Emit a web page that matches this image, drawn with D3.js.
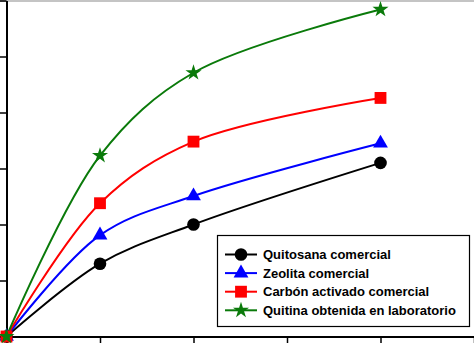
<!DOCTYPE html>
<html><head><meta charset="utf-8">
<script src="https://cdn.jsdelivr.net/npm/d3@7"></script>
<style>html,body{margin:0;padding:0;background:#fff;overflow:hidden}</style>
</head><body>
<svg id="c" width="474" height="343"></svg>
<script>
const xValues = [0, 1, 2, 4];
const quitosana = [0, 1.30, 2.00, 3.10];
const zeolita = [0, 1.81, 2.51, 3.45];
const carbon = [0, 2.38, 3.48, 4.26];
const quitina = [0, 3.23, 4.71, 5.84];
const seriesNames = ["Quitosana comercial", "Zeolita comercial", "Carbón activado comercial", "Quitina obtenida en laboratorio"];
const xTicks = [0, 1, 2, 3, 4, 5];
const yTicks = [0, 1, 2, 3, 4, 5, 6];

const svg = d3.select("#c");
const x = d3.scaleLinear().domain([0, 5]).range([6.5, 474]);
const y = d3.scaleLinear().domain([0, 6]).range([336.5, 0.5]);

// top crop border
svg.append("rect").attr("x", 0).attr("y", 0).attr("width", 474).attr("height", 2).attr("fill", "#c4c4c4");

const gx = svg.append("g").attr("transform", `translate(0,${y(0)})`)
  .call(d3.axisBottom(x).tickValues(xTicks).tickSize(7).tickSizeOuter(0).tickFormat(""));
const gy = svg.append("g").attr("transform", `translate(${x(0)},0)`)
  .call(d3.axisLeft(y).tickValues(yTicks).tickSize(7).tickSizeOuter(0).tickFormat(""));
[gx, gy].forEach(g => {
  g.select(".domain").attr("stroke", "#000").attr("stroke-width", 2);
  g.selectAll(".tick line").attr("stroke", "#000").attr("stroke-width", 1.5);
});

const series = [
  {name: seriesNames[0], vals: quitosana, color: "#000000", shape: "circle"},
  {name: seriesNames[1], vals: zeolita, color: "#0000ff", shape: "triangle"},
  {name: seriesNames[2], vals: carbon, color: "#ff0000", shape: "square"},
  {name: seriesNames[3], vals: quitina, color: "#0a7a0a", shape: "star"}
];
const sym = {
  circle: d3.symbol().type(d3.symbolCircle).size(125),
  triangle: d3.symbol().type(d3.symbolTriangle).size(95),
  square: d3.symbol().type(d3.symbolSquare).size(140),
  star: d3.symbol().type(d3.symbolStar).size(80)
};
const line = d3.line().x((d, i) => x(xValues[i])).y(d => y(d)).curve(d3.curveCatmullRom.alpha(0.5));

series.forEach(s => {
  svg.append("path").attr("d", line(s.vals)).attr("fill", "none")
    .attr("stroke", s.color).attr("stroke-width", 2);
});
series.forEach(s => {
  svg.selectAll(null).data(s.vals).enter().append("path")
    .attr("transform", (d, i) => `translate(${x(xValues[i])},${y(d)})`)
    .attr("d", sym[s.shape]).attr("fill", s.color);
});

// legend
const lg = svg.append("g");
lg.append("rect").attr("x", 217.5).attr("y", 235.5).attr("width", 252).attr("height", 91)
  .attr("fill", "#fff").attr("stroke", "#000").attr("stroke-width", 1.2);
series.forEach((s, i) => {
  const yy = 254.5 + i * 18.6;
  lg.append("line").attr("x1", 225).attr("x2", 257).attr("y1", yy).attr("y2", yy)
    .attr("stroke", s.color).attr("stroke-width", 2);
  lg.append("path").attr("transform", `translate(241,${yy})`).attr("d", sym[s.shape]).attr("fill", s.color);
  lg.append("text").attr("x", 263).attr("y", yy).attr("dy", "0.36em")
    .attr("font-family", "Liberation Sans, Arial, sans-serif").attr("font-weight", "bold")
    .attr("font-size", 13).attr("fill", "#000").text(s.name);
});
</script>
</body></html>
